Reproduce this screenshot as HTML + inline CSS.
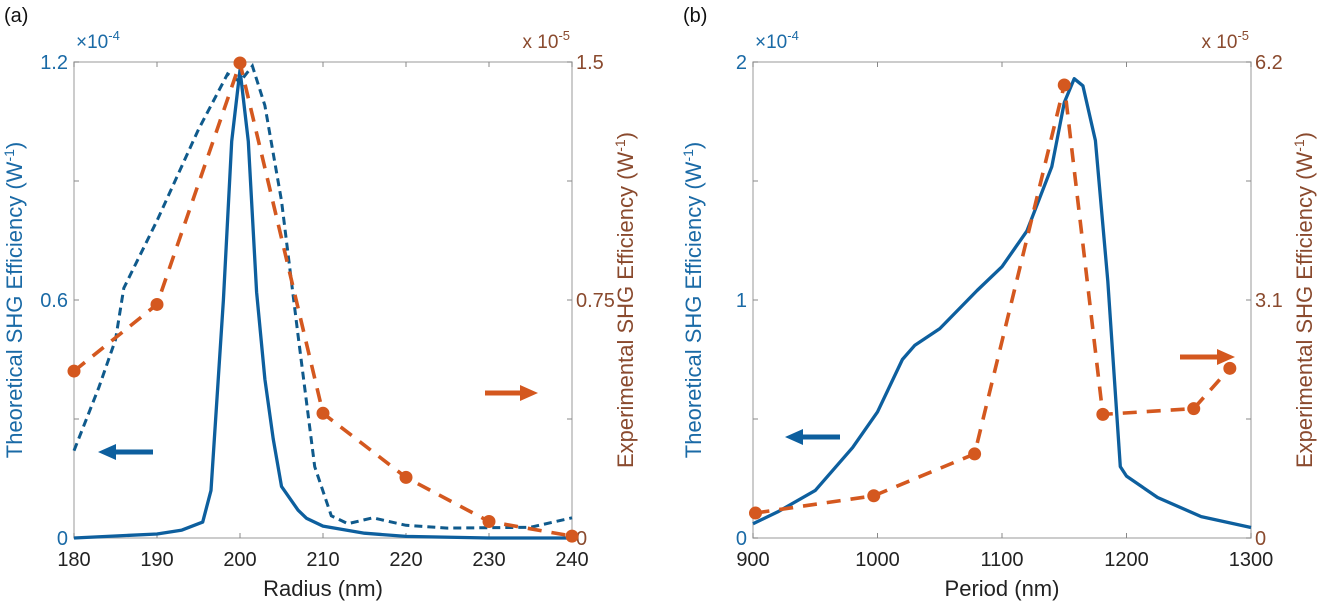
<!DOCTYPE html>
<html><head><meta charset="utf-8"><style>
body{margin:0;background:#fff;width:1320px;height:605px;overflow:hidden}
svg{font-family:"Liberation Sans",sans-serif}
</style></head><body>
<svg id="c" width="1320" height="605"></svg>
<script>
const aRadius=[180,190,193,195.5,196.5,198,199,200,201,202,203,204,205,207,208,210,215,220,230,240];
const aSolid=[0,0.01,0.02,0.04,0.12,0.6,1.0,1.18,1.0,0.62,0.4,0.25,0.13,0.07,0.05,0.03,0.012,0.004,0,0];
const aDashX=[180,183,185,186,190,195,198.5,200,201.5,203,205,207,209,211,213,216,220,225,235,240];
const aDash=[0.22,0.38,0.5,0.63,0.80,1.03,1.17,1.15,1.19,1.09,0.85,0.51,0.18,0.056,0.036,0.051,0.032,0.025,0.027,0.051];
const aExpX=[180,190,200,210,220,230,240];
const aExp=[0.526,0.736,1.497,0.393,0.191,0.052,0.006];
const bPeriod=[900,920,950,980,1000,1020,1030,1050,1080,1100,1120,1140,1150,1158,1165,1175,1185,1195,1200,1225,1260,1300];
const bSolid=[0.06,0.11,0.2,0.38,0.53,0.75,0.81,0.88,1.04,1.14,1.29,1.56,1.83,1.93,1.90,1.67,1.08,0.30,0.26,0.17,0.09,0.044];
const bExpX=[902,997,1078,1150,1181,1254,1283];
const bExp=[0.325,0.55,1.095,5.9,1.61,1.685,2.21];
const aXTicks=[180,190,200,210,220,230,240];
const bXTicks=[900,1000,1100,1200,1300];

const NS="http://www.w3.org/2000/svg",svg=document.getElementById('c');
function el(t,a,p){const e=document.createElementNS(NS,t);for(const k in a)e.setAttribute(k,a[k]);(p||svg).appendChild(e);return e;}
const BLUE="#0d5f9e",OR="#d4581f",LB="#1a6aa6",BR="#8a4a2e",TOP=62,BOT=538;

function panel(o){
  const g=el('g',{});
  
  
  const sx=v=>o.x0+(v-o.xmin)/(o.xmax-o.xmin)*(o.x1-o.x0);
  const syL=v=>BOT-v/o.lmax*(BOT-TOP);
  const syR=v=>BOT-v/o.rmax*(BOT-TOP);
  const box=el('rect',{x:o.x0,y:TOP,width:o.x1-o.x0,height:BOT-TOP,fill:'none',stroke:'#b0b0b0','stroke-width':1.3},g);
  
  o.xt.forEach(v=>{const x=sx(v);
    el('line',{x1:x,y1:BOT,x2:x,y2:BOT-5,stroke:'#888'},g);el('line',{x1:x,y1:TOP,x2:x,y2:TOP+5,stroke:'#888'},g);
    const t=el('text',{x:x,y:BOT+28,'font-size':20,'text-anchor':'middle',fill:'#222'},g);t.textContent=v;
    });
  for(let i=0;i<=4;i++){const y=TOP+i*(BOT-TOP)/4;
    el('line',{x1:o.x0,y1:y,x2:o.x0+5,y2:y,stroke:'#888'},g);el('line',{x1:o.x1,y1:y,x2:o.x1-5,y2:y,stroke:'#888'},g);}
  o.lt.forEach((s,i)=>{const t=el('text',{x:o.x0-6,y:BOT-i*(BOT-TOP)/2+7,'font-size':20,'text-anchor':'end',fill:LB},g);t.textContent=s;
    });
  o.rt.forEach((s,i)=>{const t=el('text',{x:o.x1+4,y:BOT-i*(BOT-TOP)/2+7,'font-size':20,fill:BR},g);t.textContent=s;
    });
  let t=el('text',{x:o.x0+2,y:TOP-14,'font-size':19,fill:LB},g);t.innerHTML='×10<tspan dy="-8" font-size="13">-4</tspan>';
  
  t=el('text',{x:o.x1-2,y:TOP-14,'font-size':19,fill:BR,'text-anchor':'end'},g);t.innerHTML='x 10<tspan dy="-8" font-size="13">-5</tspan>';
  
  t=el('text',{x:(o.x0+o.x1)/2,y:BOT+58,'font-size':22,'text-anchor':'middle',fill:'#222'},g);t.textContent=o.xl;
  
  t=el('text',{transform:`translate(${o.x0-52},${(TOP+BOT)/2}) rotate(-90)`,'font-size':22,'text-anchor':'middle',fill:LB},g);
  t.innerHTML='Theoretical SHG Efficiency (W<tspan dy="-8" font-size="14">-1</tspan><tspan dy="8">)</tspan>';
  
  t=el('text',{transform:`translate(${o.x1+61},${(TOP+BOT)/2}) rotate(-90)`,'font-size':22,'text-anchor':'middle',fill:BR},g);
  t.innerHTML='Experimental SHG Efficiency (W<tspan dy="-8" font-size="14">-1</tspan><tspan dy="8">)</tspan>';
  
  t=el('text',{x:o.x0-70,y:22,'font-size':20,fill:'#111'},g);t.textContent=o.lab;
  
  const path=(xs,ys,f)=>xs.map((v,i)=>(i?'L':'M')+sx(v).toFixed(1)+' '+f(ys[i]).toFixed(1)).join(' ');
  let p=el('path',{d:path(o.sX,o.sY,syL),fill:'none',stroke:BLUE,'stroke-width':3.3,'stroke-linejoin':'round'},g);
  
  if(o.dX){p=el('path',{d:path(o.dX,o.dY,syL),fill:'none',stroke:'#0f5a8c','stroke-width':3,'stroke-dasharray':'8 5'},g);
    }
  p=el('path',{d:path(o.eX,o.eY,syR),fill:'none',stroke:OR,'stroke-width':3.6,'stroke-dasharray':'14 10'},g);
  
  o.eX.forEach((v,i)=>{const c=el('circle',{cx:sx(v),cy:syR(o.eY[i]),r:6.5,fill:OR},g);
    });
  const arr=(x1,x2,y,col,nm)=>{const a=el('g',{},g);
    const d=x2>x1?1:-1;el('line',{x1:x1,y1:y,x2:x2-d*14,y2:y,stroke:col,'stroke-width':5},a);
    el('polygon',{points:`${x2},${y} ${x2-d*18},${y-8} ${x2-d*18},${y+8}`,fill:col},a);};
  arr(o.la[1],o.la[0],o.la[2],BLUE,'left-axis-arrow');
  arr(o.ra[0],o.ra[1],o.ra[2],OR,'right-axis-arrow');
}
panel({name:'panel-a',lab:'(a)',x0:74,x1:572,xmin:180,xmax:240,lmax:1.2,rmax:1.5,xt:aXTicks,lt:['0','0.6','1.2'],rt:['0','0.75','1.5'],
  xl:'Radius (nm)',sX:aRadius,sY:aSolid,dX:aDashX,dY:aDash,eX:aExpX,eY:aExp,la:[98,153,452],ra:[485,538,393]});
panel({name:'panel-b',lab:'(b)',x0:753,x1:1251,xmin:900,xmax:1300,lmax:2,rmax:6.2,xt:bXTicks,lt:['0','1','2'],rt:['0','3.1','6.2'],
  xl:'Period (nm)',sX:bPeriod,sY:bSolid,eX:bExpX,eY:bExp,la:[785,840,437],ra:[1180,1235,357]});
</script>
</body></html>
